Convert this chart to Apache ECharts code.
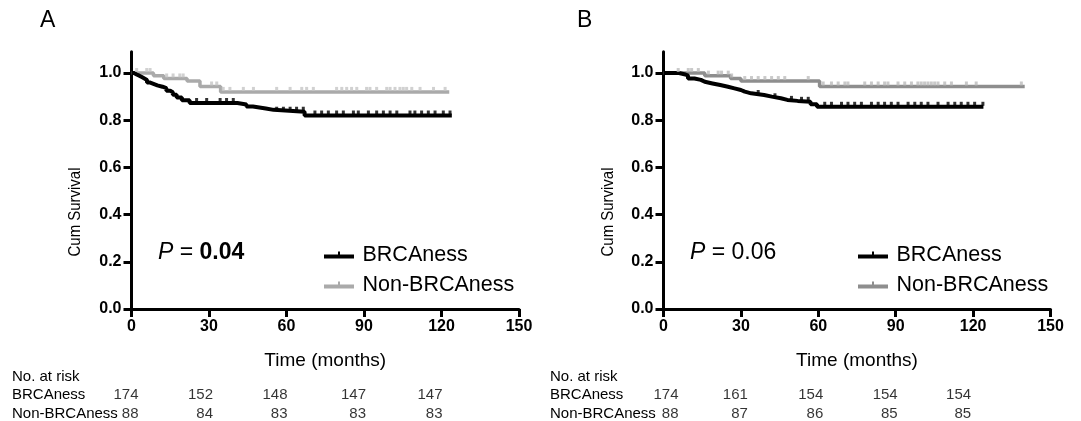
<!DOCTYPE html>
<html><head><meta charset="utf-8">
<script src="https://cdn.jsdelivr.net/npm/echarts@6/dist/echarts.min.js"></script>
<style>html,body{margin:0;padding:0;background:#fff}#c{width:1081px;height:421px}</style>
</head><body><div id="c"></div>
<script>
// ---- data ----
const seriesNames = ['BRCAness', 'Non-BRCAness'];
const riskTimes = [0, 30, 60, 90, 120];
const riskA_brca = [174, 152, 148, 147, 147];
const riskA_non = [88, 84, 83, 83, 83];
const riskB_brca = [174, 161, 154, 154, 154];
const riskB_non = [88, 87, 86, 85, 85];
const yTicks = [0, 0.2, 0.4, 0.6, 0.8, 1.0];
const pA = '0.04';
const pB = '0.06';

// Panel A, BRCAness (KM steps)
const A_brca_t = [0, 1, 2, 3, 4, 5, 6, 7, 8.5, 10, 12, 13.5, 15, 16, 17.5, 19.5, 22.5, 41, 44.5, 47, 52, 55, 67, 124];
const A_brca_s = [1.0, 0.994, 0.989, 0.983, 0.977, 0.971, 0.960, 0.954, 0.948, 0.942, 0.936, 0.925, 0.919, 0.908, 0.896, 0.885, 0.873, 0.867, 0.858, 0.850, 0.844, 0.836, 0.820, 0.820];
const A_brca_c = [25.2, 29.1, 34.3, 36.8, 39.4, 56.2, 58.8, 61.4, 63.9, 66.5, 71, 73.6, 76.2, 79.4, 82, 85.9, 87.8, 91.7, 94.9, 97.5, 100.1, 102.7, 107.8, 109.7, 112.3, 114.9, 117.5, 120.7, 123.3];
// Panel A, Non-BRCAness
const A_non_t = [0, 8.5, 12.5, 21.5, 26.5, 34.5, 123];
const A_non_s = [1.0, 0.989, 0.977, 0.966, 0.943, 0.920, 0.920];
const A_non_c = [2, 5.9, 7.2, 13.6, 16.1, 18.7, 20, 31, 33, 35.5, 38.1, 43.3, 47.2, 56.2, 61.4, 65.9, 67.8, 70.4, 79.4, 81.4, 83.3, 85.2, 87.2, 91.0, 92.3, 94.9, 98.8, 100.1, 102.0, 103.9, 105.2, 106.5, 108.5, 111.7, 116.9, 121.4];
// Panel B, BRCAness
const B_brca_t = [0, 6, 8.5, 9.5, 12, 14.5, 16, 19, 22, 25, 27.5, 30, 31.5, 34, 39, 42, 45.5, 48, 52, 57, 59.5, 124];
const B_brca_s = [1.0, 0.994, 0.989, 0.977, 0.971, 0.963, 0.956, 0.949, 0.942, 0.935, 0.928, 0.921, 0.914, 0.907, 0.900, 0.893, 0.886, 0.882, 0.878, 0.868, 0.857, 0.857];
const B_brca_c = [36.7, 43.2, 49.6, 53.5, 56.1, 62.5, 65.1, 69, 71.5, 74.1, 76.7, 80.6, 83.2, 85.7, 88.3, 90.9, 94.8, 97.4, 99.9, 102.5, 106.4, 110.3, 112.9, 115.4, 118, 120.6, 123.8];
// Panel B, Non-BRCAness
const B_non_t = [0, 16, 26, 30, 60.5, 140];
const B_non_s = [1.0, 0.989, 0.977, 0.966, 0.943, 0.943];
const B_non_c = [5.7, 9.6, 10.9, 13.5, 17.4, 21.2, 22.5, 25.1, 26.4, 31.5, 34.1, 36.7, 39.3, 41.9, 44.5, 47, 56.1, 61.9, 65.1, 67.7, 70.3, 71.5, 78, 80.6, 83.2, 85.7, 87, 90.9, 93.5, 96.1, 98.6, 99.9, 101.2, 102.5, 103.8, 105.1, 106.4, 109, 111.6, 117.4, 121.2, 138.7];

// ---- layout / style (not data) ----
const FONT = "'Liberation Sans', Arial, sans-serif";
const riskOffsetA = [7, 4, 1, 2, 1];
const riskOffsetB = [15, 7, 5, 2, -2];
const BLACK = '#000000';
const GRAY_A = '#aaaaaa', GRAY_A_MARK = '#c6c6c6';
const GRAY_B = '#8e8e8e', GRAY_B_MARK = '#bcbcbc';

function pairs(t, s) { return t.map((x, i) => [x, s[i]]); }
function survAt(t, s, x) { let v = s[0]; for (let i = 0; i < t.length; i++) { if (t[i] <= x) v = s[i]; } return v; }
function censor(t, s, c) { return c.map(x => [x, survAt(t, s, x)]); }

const plotH = 257.2, plotTop = 51.8;
const grids = [
  { left: 131.5, top: plotTop, width: 387.5, height: plotH },
  { left: 663.5, top: plotTop, width: 387, height: plotH },
  { left: 131.5, top: 395, width: 387.5, height: 19 },
  { left: 663.5, top: 395, width: 387, height: 19 }
];
function plotX(gi) {
  return {
    type: 'value', gridIndex: gi, min: 0, max: 150, interval: 30,
    name: 'Time (months)', nameLocation: 'middle', nameGap: 42,
    nameTextStyle: { fontFamily: FONT, fontSize: 19, color: '#000' },
    axisLine: { show: true, lineStyle: { color: '#000', width: 3 } },
    axisTick: { show: true, length: 8, lineStyle: { color: '#000', width: 3 } },
    axisLabel: { fontFamily: FONT, fontSize: 16, fontWeight: 'bold', color: '#000', margin: 10 },
    splitLine: { show: false }
  };
}
function plotY(gi) {
  return {
    type: 'value', gridIndex: gi, min: 0, max: 1.09,
    axisLine: { show: true, lineStyle: { color: '#000', width: 3 } },
    axisTick: { show: true, length: 8, customValues: yTicks, lineStyle: { color: '#000', width: 3 } },
    axisLabel: { fontFamily: FONT, fontSize: 16, fontWeight: 'bold', color: '#000', margin: 10,
      customValues: yTicks, formatter: v => v.toFixed(1) },
    splitLine: { show: false }
  };
}
function riskX(gi) { return { type: 'value', gridIndex: gi, min: 0, max: 150, show: false }; }
function riskY(gi) { return { type: 'value', gridIndex: gi, min: 0, max: 1, inverse: true, show: false }; }

function kmLine(name, gi, t, s, color, w) {
  return { name, type: 'line', xAxisIndex: gi, yAxisIndex: gi, step: 'end', data: pairs(t, s),
    symbol: 'none', lineStyle: { color, width: w }, itemStyle: { color }, z: 3, silent: true };
}
function kmMarks(gi, t, s, c, color) {
  return { type: 'scatter', xAxisIndex: gi, yAxisIndex: gi, data: censor(t, s, c),
    symbol: 'rect', symbolSize: [3, 4], symbolOffset: [0, -3], itemStyle: { color }, z: 4, silent: true };
}
function riskRow(gi, vals, row, offs) {
  return { type: 'scatter', xAxisIndex: gi, yAxisIndex: gi,
    data: riskTimes.map((x, i) => ({ value: [x, row], label: { formatter: String(vals[i]), distance: -offs[i] } })),
    symbolSize: 0.01, silent: true,
    label: { show: true, position: 'left', align: 'right',
      fontFamily: FONT, fontSize: 15, color: '#000' } };
}

const legendIcon = 'path://M0,3H30V7H0Z M14,0H16V3H14Z';
function legend(left, grayColor) {
  return {
    left, top: 239, orient: 'vertical', itemWidth: 31, itemHeight: 7, itemGap: 8,
    selectedMode: false,
    textStyle: { fontFamily: FONT, fontSize: 21.5, color: '#000', lineHeight: 21, padding: [0, 0, 0, 3] },
    data: [
      { name: 'BRCAness', icon: legendIcon, itemStyle: { color: BLACK } },
      { name: 'Non-BRCAness', icon: legendIcon, itemStyle: { color: grayColor } }
    ]
  };
}

function ptext(x, y, val, bold) {
  return { type: 'text', left: x, top: y, style: {
    text: '{i|P} = {b|' + val + '}', font: '23px ' + FONT, fill: '#000',
    rich: { i: { fontStyle: 'italic', fontSize: 23, fontFamily: FONT },
            b: { fontWeight: bold ? 'bold' : 'normal', fontSize: 23, fontFamily: FONT } } } };
}
function txt(x, y, s, size) {
  return { type: 'text', left: x, top: y, style: { text: s, font: size + 'px ' + FONT, fill: '#000' } };
}
function ylab(x) {
  return { type: 'text', x: x, y: 212, rotation: Math.PI / 2, scaleX: 0.88, scaleY: 1,
    style: { text: 'Cum Survival', font: '17px ' + FONT, fill: '#000', align: 'center', verticalAlign: 'middle' } };
}

const option = {
  animation: false,
  backgroundColor: '#fff',
  grid: grids,
  xAxis: [plotX(0), plotX(1), riskX(2), riskX(3)],
  yAxis: [plotY(0), plotY(1), riskY(2), riskY(3)],
  legend: [legend(319, GRAY_A), legend(853, GRAY_B)],
  series: [
    kmLine('Non-BRCAness', 0, A_non_t, A_non_s, GRAY_A, 3.5),
    kmMarks(0, A_non_t, A_non_s, A_non_c, GRAY_A_MARK),
    kmLine('BRCAness', 0, A_brca_t, A_brca_s, BLACK, 4),
    kmMarks(0, A_brca_t, A_brca_s, A_brca_c, BLACK),
    kmLine('Non-BRCAness', 1, B_non_t, B_non_s, GRAY_B, 3.5),
    kmMarks(1, B_non_t, B_non_s, B_non_c, GRAY_B_MARK),
    kmLine('BRCAness', 1, B_brca_t, B_brca_s, BLACK, 4),
    kmMarks(1, B_brca_t, B_brca_s, B_brca_c, BLACK),
    riskRow(2, riskA_brca, 0, riskOffsetA), riskRow(2, riskA_non, 1, riskOffsetA),
    riskRow(3, riskB_brca, 0, riskOffsetB), riskRow(3, riskB_non, 1, riskOffsetB)
  ],
  graphic: [
    txt(40, 9, 'A', 23),
    txt(577, 9, 'B', 23),
    ylab(75), ylab(608),
    ptext(158, 241, pA, true),
    ptext(690, 241, pB, false),
    txt(12, 369, 'No. at risk', 15), txt(12, 387, 'BRCAness', 15), txt(12, 406, 'Non-BRCAness', 15),
    txt(550, 369, 'No. at risk', 15), txt(550, 387, 'BRCAness', 15), txt(550, 406, 'Non-BRCAness', 15)
  ]
};
const chart = echarts.init(document.getElementById('c'), null, { renderer: 'canvas' });
chart.setOption(option);
</script></body></html>
